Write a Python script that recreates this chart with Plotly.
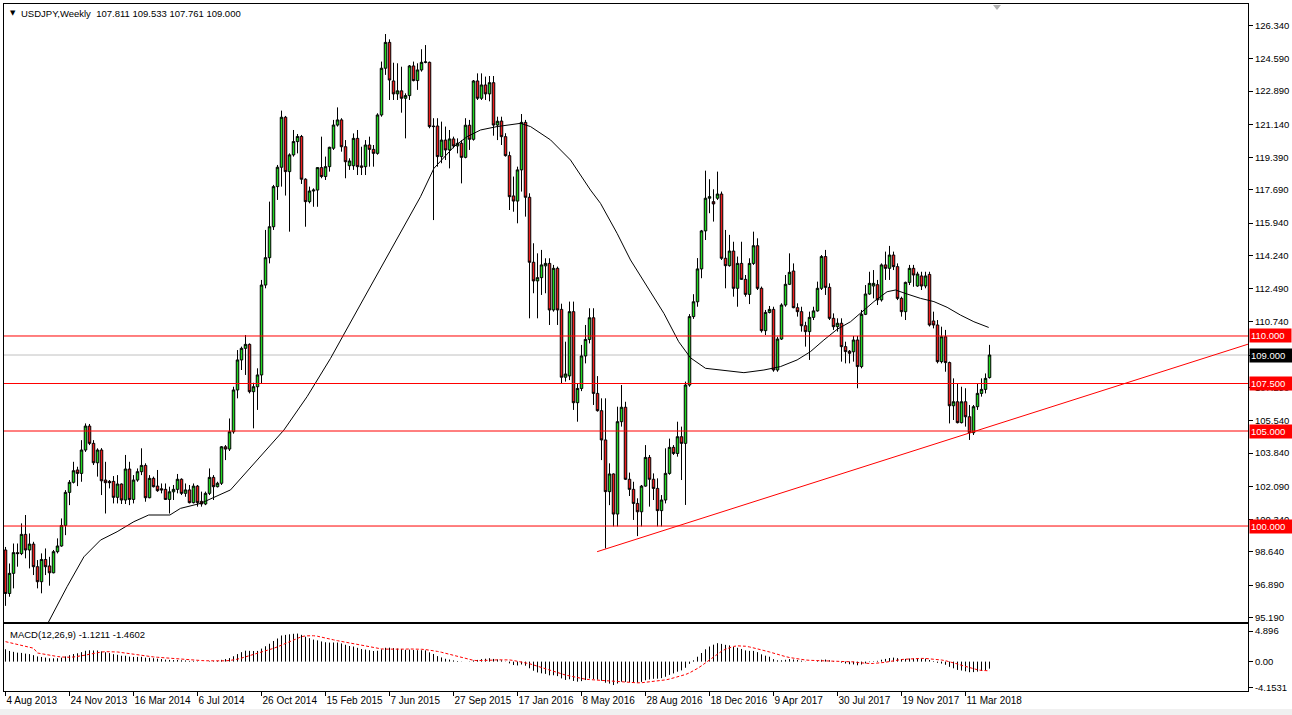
import numpy as np
import pandas as pd
import plotly.graph_objects as go

# ---------------- data ----------------
start_week = "2013-08-04"

opens = [
    98.74, 96.45, 97.51, 98.60, 98.55, 99.56, 98.74, 99.05, 97.86, 97.07,
    98.24, 97.90, 97.54, 98.65, 98.95, 100.03, 101.77, 102.30, 102.95, 102.77,
    104.00, 105.26, 104.35, 103.33, 104.00, 102.42, 102.35, 102.35, 101.51, 102.21,
    101.37, 103.00, 101.40, 102.42, 102.86, 103.19, 101.49, 102.51, 102.10, 101.96,
    101.93, 101.40, 101.80, 101.93, 102.46, 101.72, 101.90, 101.23, 102.10, 101.30,
    101.16, 101.72, 102.56, 102.07, 102.25, 104.17, 104.05, 104.96, 107.16, 108.74,
    109.35, 109.56, 107.07, 107.33, 107.95, 112.68, 114.12, 115.75, 117.86, 118.88,
    121.51, 118.65, 119.53, 120.23, 120.50, 118.25, 117.07, 117.63, 117.68, 118.86,
    118.39, 118.91, 119.88, 121.10, 121.37, 119.96, 118.96, 118.96, 120.40, 118.95,
    118.91, 120.05, 119.82, 119.61, 121.63, 124.09, 125.45, 123.42, 122.74, 122.90,
    122.51, 122.65, 124.21, 123.44, 124.00, 124.40, 124.40, 121.05, 121.05, 119.44,
    120.31, 119.79, 120.37, 120.00, 120.14, 119.40, 121.09, 120.35, 123.42, 122.51,
    123.21, 122.74, 123.33, 121.10, 121.31, 120.49, 119.49, 117.37, 117.10, 118.74,
    121.24, 117.30, 113.88, 112.90, 113.07, 113.69, 113.82, 111.37, 113.56, 111.40,
    107.83, 107.90, 111.28, 106.49, 107.24, 108.95, 109.82, 110.96, 106.98, 106.07,
    104.53, 101.81, 102.74, 100.63, 105.49, 106.25, 102.46, 101.93, 101.19, 100.75,
    102.10, 103.61, 102.46, 101.98, 100.81, 101.37, 102.77, 104.14, 103.82, 104.70,
    104.35, 107.42, 111.02, 111.80, 113.53, 115.53, 117.25, 117.07, 117.25, 117.47,
    114.09, 113.70, 114.47, 112.51, 113.82, 112.98, 112.19, 113.82, 114.75, 112.51,
    110.28, 111.24, 111.40, 108.21, 109.84, 111.63, 112.72, 113.42, 111.49, 111.28,
    110.54, 110.23, 110.98, 111.32, 112.51, 114.18, 112.56, 110.93, 110.49, 110.67,
    109.44, 109.20, 109.17, 109.79, 108.39, 111.14, 112.21, 112.63, 112.70, 111.90,
    113.74, 113.56, 114.26, 113.65, 111.98, 111.28, 112.82, 113.56, 112.63, 113.16,
    112.63, 113.24, 110.79, 110.58, 108.65, 109.96, 108.60, 106.33, 106.54, 105.44,
    106.54, 105.75, 104.91, 106.28, 106.98, 107.19, 107.811,
]

highs = [
    98.90, 98.03, 99.08, 99.08, 100.14, 100.58, 99.61, 99.17, 98.21, 98.56,
    98.82, 98.38, 98.74, 99.35, 100.40, 101.89, 102.42, 103.38, 103.12, 104.52,
    105.40, 105.37, 104.52, 104.09, 104.10, 103.38, 102.42, 102.63, 102.68, 102.24,
    103.74, 103.38, 102.68, 103.03, 104.09, 103.30, 102.68, 102.60, 102.95, 102.24,
    102.24, 102.07, 102.16, 102.74, 102.51, 102.24, 102.16, 102.24, 102.16, 101.81,
    101.81, 103.03, 102.68, 102.33, 104.21, 104.26, 105.66, 107.33, 109.26, 109.44,
    110.05, 109.61, 107.54, 108.30, 112.95, 115.58, 117.07, 117.95, 119.00, 121.86,
    121.58, 119.61, 120.84, 120.63, 120.58, 118.30, 117.86, 117.77, 118.88, 120.49,
    119.44, 119.96, 121.37, 122.03, 121.46, 120.31, 119.35, 120.66, 120.84, 119.96,
    120.31, 120.49, 120.05, 121.72, 124.44, 125.89, 125.61, 124.38, 124.35, 124.17,
    122.77, 124.26, 124.44, 124.35, 125.09, 125.31, 124.44, 121.46, 121.46, 121.28,
    121.02, 120.84, 120.49, 120.40, 120.30, 121.46, 121.37, 123.47, 123.82, 123.82,
    123.65, 123.68, 123.68, 121.54, 121.54, 120.67, 119.70, 118.39, 118.91, 121.68,
    121.37, 117.51, 114.88, 114.35, 114.53, 114.09, 114.09, 113.74, 113.65, 111.70,
    109.70, 111.81, 111.81, 107.51, 109.53, 110.58, 111.46, 111.46, 107.89, 106.72,
    106.72, 103.30, 102.77, 106.28, 107.42, 106.54, 102.81, 102.33, 101.46, 102.16,
    104.26, 103.74, 102.77, 102.51, 101.63, 104.09, 104.60, 104.26, 105.49, 105.23,
    107.60, 111.15, 112.20, 114.10, 115.58, 118.70, 118.25, 117.72, 118.65, 117.60,
    115.58, 115.32, 114.96, 114.18, 114.96, 113.21, 114.09, 115.49, 115.14, 112.60,
    111.37, 111.58, 111.54, 109.96, 111.72, 113.21, 114.35, 113.82, 111.72, 111.54,
    110.75, 111.28, 111.54, 112.86, 114.26, 114.53, 112.77, 111.19, 110.93, 110.93,
    109.70, 109.26, 110.00, 110.00, 111.37, 112.68, 113.38, 113.47, 112.95, 113.82,
    114.44, 114.74, 114.44, 113.82, 112.07, 112.86, 113.74, 113.74, 113.38, 113.38,
    113.38, 113.38, 111.28, 110.84, 110.49, 110.32, 108.65, 107.77, 107.51, 107.33,
    107.25, 106.37, 106.37, 107.51, 107.77, 108.03, 109.533,
]

lows = [
    95.80, 96.28, 96.72, 97.86, 98.47, 98.30, 97.77, 97.42, 96.72, 96.46,
    97.42, 96.86, 97.51, 98.56, 98.91, 99.52, 101.10, 102.24, 102.10, 102.33,
    103.90, 104.26, 103.21, 102.60, 101.63, 100.66, 101.98, 101.19, 101.19, 101.16,
    101.16, 101.10, 101.19, 102.33, 102.68, 101.28, 101.46, 102.03, 101.80, 101.72,
    101.37, 100.66, 101.37, 101.72, 101.63, 101.54, 101.19, 101.19, 101.02, 101.02,
    101.10, 101.63, 101.37, 102.03, 102.16, 103.47, 103.95, 104.86, 106.72, 108.21,
    107.95, 106.98, 105.14, 106.11, 107.51, 112.51, 113.82, 115.58, 117.16, 117.86,
    117.39, 115.49, 119.44, 119.61, 118.00, 115.75, 116.98, 116.80, 116.80, 118.30,
    118.21, 118.65, 119.79, 121.02, 119.70, 118.30, 118.74, 118.74, 118.47, 118.47,
    118.47, 118.91, 118.91, 119.54, 121.54, 123.74, 122.42, 122.42, 122.42, 121.75,
    120.40, 122.42, 123.40, 122.95, 123.91, 124.35, 120.93, 116.10, 118.91, 119.09,
    119.26, 118.82, 119.88, 119.61, 118.03, 119.35, 119.79, 120.28, 122.42, 122.42,
    122.42, 122.35, 120.54, 120.31, 120.05, 119.44, 116.63, 116.54, 115.93, 117.60,
    116.28, 110.93, 112.25, 110.93, 112.16, 112.25, 110.58, 111.28, 110.58, 107.51,
    107.60, 107.68, 106.11, 105.49, 107.10, 108.56, 109.61, 106.37, 106.02, 103.47,
    98.82, 101.10, 99.98, 99.98, 105.23, 102.42, 101.58, 100.32, 99.47, 99.98,
    102.07, 101.02, 101.37, 99.98, 99.98, 101.19, 102.70, 103.74, 103.65, 102.42,
    101.11, 107.33, 110.90, 111.54, 113.04, 115.05, 116.46, 116.02, 117.16, 114.00,
    112.51, 113.65, 112.07, 111.54, 112.95, 112.07, 111.68, 113.74, 112.42, 110.18,
    110.05, 111.19, 108.12, 108.12, 109.79, 111.54, 112.68, 111.46, 111.02, 110.23,
    109.44, 108.74, 110.84, 111.28, 112.42, 112.16, 110.84, 110.32, 110.23, 108.65,
    108.56, 108.56, 108.65, 107.25, 108.30, 111.10, 112.17, 111.98, 111.63, 111.81,
    112.95, 112.95, 113.47, 111.89, 111.02, 110.84, 112.68, 112.59, 112.59, 112.42,
    112.51, 110.50, 110.40, 108.56, 108.56, 108.12, 105.40, 105.58, 105.40, 105.40,
    105.23, 104.53, 104.79, 106.11, 106.81, 106.98, 107.761,
]

closes = [
    96.45, 97.51, 98.60, 98.55, 99.56, 98.74, 99.05, 97.86, 97.07, 98.24,
    97.86, 97.54, 98.65, 98.95, 100.03, 101.77, 102.30, 102.91, 102.77, 104.00,
    105.26, 104.35, 103.33, 104.00, 102.38, 102.28, 102.28, 101.51, 102.21, 101.37,
    103.00, 101.40, 102.42, 102.86, 103.19, 101.49, 102.51, 102.07, 101.86, 101.90,
    101.40, 101.80, 101.93, 102.46, 101.72, 101.90, 101.23, 102.10, 101.23, 101.16,
    101.72, 102.56, 102.07, 102.25, 104.17, 104.05, 104.96, 107.16, 108.74, 109.35,
    109.56, 107.07, 107.33, 107.95, 112.68, 114.12, 115.75, 117.86, 118.88, 121.51,
    118.65, 119.53, 120.23, 120.50, 118.25, 117.07, 117.63, 117.68, 118.86, 118.39,
    118.91, 119.93, 121.10, 121.37, 119.96, 119.17, 119.21, 120.40, 118.91, 118.88,
    120.05, 119.82, 119.61, 121.63, 124.09, 125.45, 123.47, 122.74, 122.90, 122.51,
    122.65, 124.21, 123.44, 124.00, 124.40, 124.42, 121.02, 121.02, 119.44, 120.31,
    119.79, 120.37, 120.00, 120.14, 119.40, 121.09, 120.35, 123.42, 122.51, 123.21,
    122.74, 123.33, 121.10, 121.30, 120.49, 119.49, 117.33, 117.10, 118.74, 121.24,
    117.30, 113.88, 112.90, 113.07, 113.74, 113.82, 111.37, 113.56, 111.37, 107.83,
    108.00, 111.28, 106.49, 107.24, 108.95, 109.82, 110.96, 106.98, 106.07, 104.53,
    101.81, 102.74, 100.63, 105.49, 106.25, 102.46, 101.93, 101.19, 100.75, 102.10,
    103.61, 102.46, 101.98, 100.81, 101.37, 102.77, 104.14, 103.82, 104.70, 104.35,
    107.42, 111.02, 111.80, 113.53, 115.53, 117.25, 117.33, 116.95, 117.47, 114.09,
    113.70, 114.47, 112.51, 113.82, 112.98, 112.19, 113.82, 114.75, 112.51, 110.28,
    111.24, 111.40, 108.21, 109.84, 111.63, 112.72, 113.35, 111.49, 111.28, 110.54,
    110.23, 110.98, 111.32, 112.51, 114.18, 112.56, 110.93, 110.49, 110.67, 109.44,
    109.18, 109.09, 109.79, 108.39, 111.14, 112.21, 112.77, 112.77, 111.90, 113.74,
    113.56, 114.26, 113.65, 111.98, 111.28, 112.82, 113.56, 113.21, 113.26, 112.63,
    113.16, 110.58, 110.58, 108.65, 109.96, 108.60, 106.33, 106.54, 105.44, 106.54,
    105.75, 104.91, 106.28, 106.98, 107.19, 107.77, 109.000,
]

# moving average line (week index from first bar, value)
ma_week = [10.75, 15.4, 19.6, 23.75, 27.9, 32.1, 35.8, 41.1, 43.75, 48.75,
           56.25, 63.75, 69.6, 75.4, 81.25, 89.5, 97.9, 103.75, 107.1, 112.1,
           115.4, 118.75, 122.9, 128.75, 131.25, 136.25, 141.25, 146.25, 148.75, 152.9,
           156.25, 160.4, 164.6, 168.3, 171.25, 175, 178.75, 184.6, 189.6, 193.75,
           197.9, 201.25, 204.6, 207.9, 211.25, 213.75, 217.1, 220.4, 222.5, 225.4,
           228.75, 232.1, 235.4, 238.75, 242.1, 245.8]
ma_value = [94.95, 96.81, 98.38, 99.26, 99.70, 100.23, 100.58, 100.58, 100.93, 101.19,
            101.90, 103.65, 105.05, 106.81, 108.82, 111.95, 115.14, 117.33, 118.82, 119.96,
            120.49, 120.84, 121.02, 121.19, 121.02, 120.32, 119.26, 117.68, 116.98, 115.40,
            114.00, 112.60, 111.19, 109.70, 108.85, 108.30, 108.21, 108.07, 108.21, 108.39,
            108.74, 109.18, 109.79, 110.35, 110.75, 111.20, 111.81, 112.33, 112.42, 112.21,
            111.98, 111.81, 111.51, 111.10, 110.75, 110.45]

# horizontal levels and trend line anchors
red_levels = [110.0, 107.5, 105.0, 100.0]
bid_price = 109.0
trend_weeks = [147.9, 240.75]
trend_prices = [98.65, 104.88]

# MACD(12,26,9): EMA values before the first visible bar (estimated) and
# the signal line over the first bars
ema12_seed, ema26_seed = 99.5, 97.1
signal_first = [3.2, 3.05, 2.9, 2.75, 2.6, 2.45, 2.3, 2.15]

price_ticks = [126.340, 124.590, 122.890, 121.140, 119.390, 117.690, 115.940, 114.240,
               112.490, 110.740, 108.990, 107.290, 105.540, 103.840, 102.090, 100.340,
               98.640, 96.890, 95.190]
macd_ticks = [4.896, 0.0, -4.1531]
macd_tick_text = ["4.896", "0.00", "-4.1531"]
header_text = "USDJPY,Weekly  107.811 109.533 107.761 109.000"
macd_text = "MACD(12,26,9) -1.1211 -1.4602"

# ---------------- derived ----------------
n = len(closes)
start = pd.Timestamp(start_week)
weeks = pd.date_range(start, periods=n, freq="7D")
o = np.array(opens); c = np.array(closes)
h = np.maximum.reduce([np.array(highs), o, c])
l = np.minimum.reduce([np.array(lows), o, c])

def wk(w):
    return start + pd.Timedelta(days=7 * w)

ma_x = [wk(w) for w in ma_week]

# MACD
a12, a26 = 2 / 13, 2 / 27
e12, e26 = ema12_seed, ema26_seed
main = []
for v in closes:
    e12 += a12 * (v - e12)
    e26 += a26 * (v - e26)
    main.append(e12 - e26)
main = np.array(main)
signal = np.empty(n)
signal[:len(signal_first)] = signal_first
for i in range(len(signal_first), n):
    signal[i] = main[max(0, i - 8):i + 1].mean()

hx, hy = [], []
for d, m in zip(weeks, main):
    hx += [d, d, None]
    hy += [0.0, float(m), None]

# ---------------- geometry (pixels) ----------------
W, H = 1292, 715
L_PX, R_PX, T_PX, B_PX = 4, 1248, 4, 691
MAIN_BOTTOM, MACD_TOP = 622, 624
plot_w, plot_h = R_PX - L_PX, B_PX - T_PX

def px(x):
    return (x - L_PX) / plot_w

def py(y):
    return (B_PX - y) / plot_h

# half-pixel offset so 1px bars/wicks land on pixel centres
x_lo = wk(-0.375)
x_hi = wk(310.625)
y_lo, y_hi = 94.95, 127.47

GREEN = "#1fd81f"
RED = "#ee1c1c"
FONT = "Liberation Sans"

fig = go.Figure()
fig.add_trace(go.Candlestick(
    x=weeks, open=o, high=h, low=l, close=c,
    increasing=dict(fillcolor=GREEN, line=dict(color="black", width=1)),
    decreasing=dict(fillcolor=RED, line=dict(color="black", width=1)),
    whiskerwidth=0, xaxis="x", yaxis="y", showlegend=False, hoverinfo="skip"))
fig.add_trace(go.Scatter(x=ma_x, y=ma_value, mode="lines",
                         line=dict(color="black", width=1),
                         xaxis="x", yaxis="y", showlegend=False, hoverinfo="skip"))
fig.add_trace(go.Scatter(x=hx, y=hy, mode="lines",
                         line=dict(color="black", width=1),
                         xaxis="x2", yaxis="y2", showlegend=False, hoverinfo="skip"))
fig.add_trace(go.Scatter(x=list(weeks), y=signal, mode="lines",
                         line=dict(color="#ff0000", width=1, dash="3px,2px"),
                         xaxis="x2", yaxis="y2", showlegend=False, hoverinfo="skip"))

slope = (trend_prices[1] - trend_prices[0]) / (trend_weeks[1] - trend_weeks[0])
end_w = 310.625

shapes = []
shapes.append(dict(type="line", xref="x", yref="y", x0=x_lo, x1=x_hi, y0=bid_price, y1=bid_price,
                   line=dict(color="#c0c0c0", width=1), layer="below"))
for lv in red_levels:
    shapes.append(dict(type="line", xref="x", yref="y", x0=x_lo, x1=x_hi, y0=lv, y1=lv,
                       line=dict(color="#ff0000", width=1), layer="above"))
shapes.append(dict(type="line", xref="x", yref="y",
                   x0=wk(trend_weeks[0]), y0=trend_prices[0],
                   x1=wk(end_w), y1=trend_prices[0] + slope * (end_w - trend_weeks[0]),
                   line=dict(color="#ff0000", width=1), layer="above"))
# chart-shift marker
shapes.append(dict(type="path", xref="paper", yref="paper",
                   path=f"M {px(993)} {py(5)} L {px(1001)} {py(5)} L {px(997)} {py(10)} Z",
                   fillcolor="#b0b0b0", line=dict(width=0)))
# bottom status strip
shapes.append(dict(type="rect", xref="paper", yref="paper",
                   x0=px(0), x1=px(W), y0=py(709), y1=py(716),
                   fillcolor="#f0f0f0", line=dict(width=0)))

annotations = []
for lv in red_levels:
    annotations.append(dict(xref="paper", yref="y", x=1, y=lv, xanchor="left", yanchor="middle",
                            xshift=1, text=f"{lv:.3f}&nbsp;&nbsp;", showarrow=False,
                            font=dict(family=FONT, size=9.5, color="white"),
                            bgcolor="#ff0000", borderpad=1))
annotations.append(dict(xref="paper", yref="y", x=1, y=bid_price, xanchor="left", yanchor="middle",
                        xshift=1, text=f"{bid_price:.3f}&nbsp;&nbsp;", showarrow=False,
                        font=dict(family=FONT, size=9.5, color="white"),
                        bgcolor="black", borderpad=1))
annotations.append(dict(xref="paper", yref="paper", x=px(8), y=py(13), xanchor="left",
                        yanchor="middle", text="▼", showarrow=False,
                        font=dict(family="DejaVu Sans", size=7, color="black")))
annotations.append(dict(xref="paper", yref="paper", x=px(19), y=py(13), xanchor="left",
                        yanchor="middle", text=header_text, showarrow=False,
                        font=dict(family=FONT, size=9.5, color="black")))
annotations.append(dict(xref="paper", yref="paper", x=px(8), y=py(634), xanchor="left",
                        yanchor="middle", text=macd_text, showarrow=False,
                        font=dict(family=FONT, size=9.5, color="black")))

tick_dates = list(weeks[::16])
tick_text = [f"{d.day} {d.strftime('%b %Y')}" for d in tick_dates]

axis_common = dict(showgrid=False, zeroline=False, showline=True, mirror=True,
                   linecolor="black", linewidth=1, automargin=False, showspikes=False)

fig.update_layout(
    width=W, height=H,
    margin=dict(l=L_PX, r=W - R_PX, t=T_PX, b=H - B_PX, pad=0),
    paper_bgcolor="white", plot_bgcolor="white",
    hovermode=False, showlegend=False, boxgap=0.375, boxgroupgap=0,
    font=dict(family=FONT, size=10, color="black"),
    xaxis=dict(domain=[0, 1], anchor="y", type="date", range=[x_lo, x_hi],
               showticklabels=False, ticks="", rangeslider=dict(visible=False),
               **axis_common),
    yaxis=dict(domain=[py(MAIN_BOTTOM), 1], anchor="x", range=[y_lo, y_hi], side="right",
               tickvals=price_ticks, ticktext=[f"{t:.3f}" for t in price_ticks],
               ticks="outside", ticklen=4, tickcolor="black",
               tickfont=dict(family=FONT, size=9.5), **axis_common),
    xaxis2=dict(domain=[0, 1], anchor="y2", type="date", range=[x_lo, x_hi],
                tickvals=tick_dates, ticktext=tick_text, ticks="outside", ticklen=4,
                tickcolor="black", ticklabelposition="outside right", tickangle=0,
                tickfont=dict(family=FONT, size=10), **axis_common),
    yaxis2=dict(domain=[0, py(MACD_TOP)], anchor="x2", range=[-4.71, 6.03], side="right",
                tickvals=macd_ticks, ticktext=macd_tick_text, ticks="outside", ticklen=4,
                tickcolor="black", tickfont=dict(family=FONT, size=9.5), **axis_common),
    shapes=shapes, annotations=annotations,
)

fig.write_html("out.html", config={"displayModeBar": False},
               post_script="document.body.style.margin='0';document.body.style.overflow='hidden';")
